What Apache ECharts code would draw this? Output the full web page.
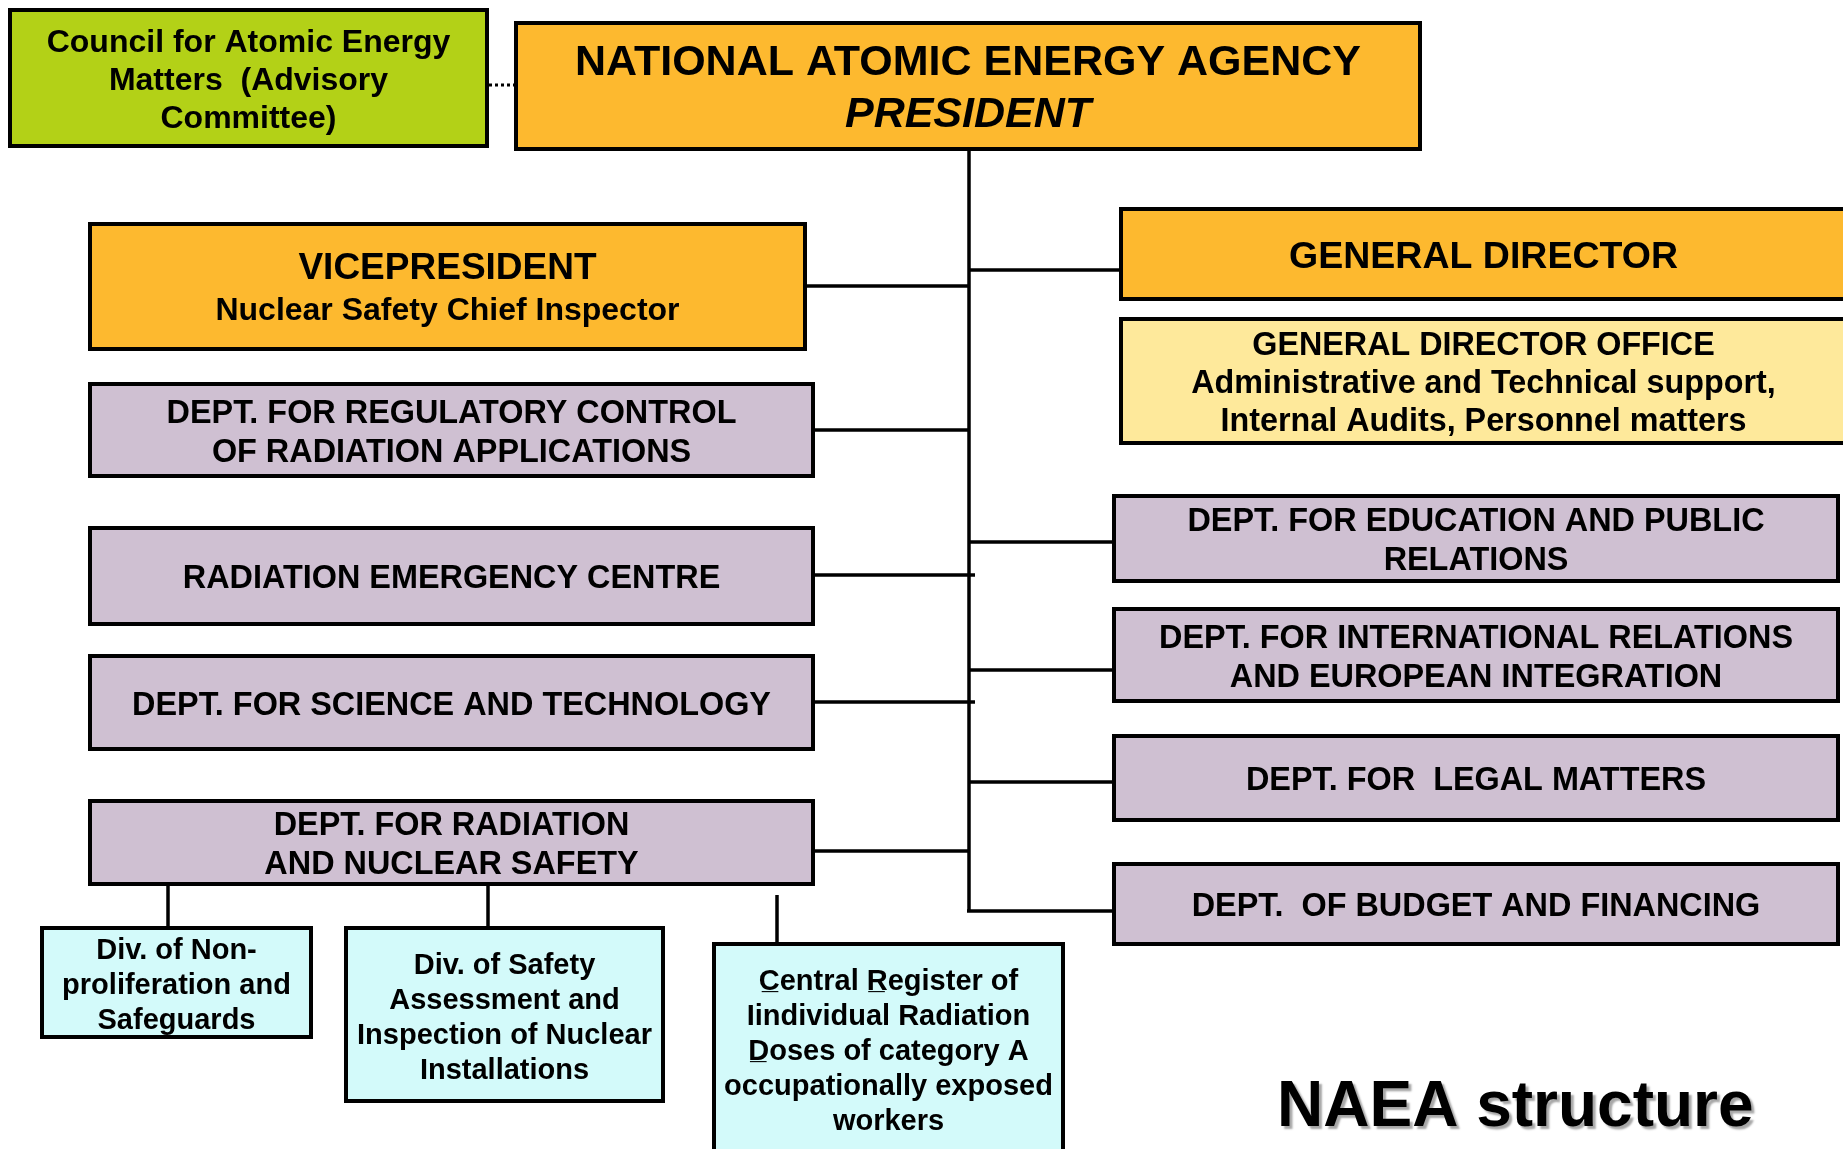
<!DOCTYPE html>
<html>
<head>
<meta charset="utf-8">
<title>NAEA structure</title>
<script src="https://cdn.jsdelivr.net/npm/echarts@6/dist/echarts.min.js"></script>
<style>
  html, body { margin: 0; padding: 0; background: #fff; }
  #chart { width: 1843px; height: 1149px; }
</style>
</head>
<body>
<div id="chart"></div>
<script>
  // org chart boxes: text, kind, extent [x0, y0, x1, y1] in chart units (0..1843 x 0..1149)
  const boxLabels = [
    'Council for Atomic Energy\nMatters  (Advisory\nCommittee)',
    '{big|NATIONAL ATOMIC ENERGY AGENCY}\n{it|PRESIDENT}',
    '{vp|VICEPRESIDENT}\n{sub|Nuclear Safety Chief Inspector}',
    '{gd|GENERAL DIRECTOR}',
    'GENERAL DIRECTOR OFFICE\nAdministrative and Technical support,\nInternal Audits, Personnel matters',
    'DEPT. FOR REGULATORY CONTROL\nOF RADIATION APPLICATIONS',
    'RADIATION EMERGENCY CENTRE',
    'DEPT. FOR SCIENCE AND TECHNOLOGY',
    'DEPT. FOR RADIATION\nAND NUCLEAR SAFETY',
    'DEPT. FOR EDUCATION AND PUBLIC\nRELATIONS',
    'DEPT. FOR INTERNATIONAL RELATIONS\nAND EUROPEAN INTEGRATION',
    'DEPT. FOR  LEGAL MATTERS',
    'DEPT.  OF BUDGET AND FINANCING',
    'Div. of Non-\nproliferation and\nSafeguards',
    'Div. of Safety\nAssessment and\nInspection of Nuclear\nInstallations',
    'C\u0332entral R\u0332egister of\nIindividual Radiation\nD\u0332oses of category A\noccupationally exposed\nworkers'
  ];
  const boxKinds = [
    'council', 'head', 'head', 'head', 'office',
    'dept', 'dept', 'dept', 'dept',
    'dept', 'dept', 'dept', 'dept',
    'div', 'div', 'div'
  ];
  const boxExtents = [
    [8, 8, 489, 148],
    [514, 21, 1422, 151],
    [88, 222, 807, 351],
    [1119, 207, 1848, 301],
    [1119, 317, 1848, 445],
    [88, 382, 815, 478],
    [88, 526, 815, 626],
    [88, 654, 815, 751],
    [88, 799, 815, 886],
    [1112, 494, 1840, 583],
    [1112, 607, 1840, 703],
    [1112, 734, 1840, 822],
    [1112, 862, 1840, 946],
    [40, 926, 313, 1039],
    [344, 926, 665, 1103],
    [712, 942, 1065, 1154]
  ];

  // connectors: [x0, y0, x1, y1] and whether dotted
  const linkSegments = [
    [489, 85, 514, 85],
    [969, 151, 969, 912],
    [807, 286, 969, 286],
    [969, 270, 1119, 270],
    [811, 430, 969, 430],
    [815, 575, 975, 575],
    [815, 702, 975, 702],
    [815, 851, 969, 851],
    [969, 542, 1112, 542],
    [969, 670, 1112, 670],
    [969, 782, 1112, 782],
    [967, 911, 1112, 911],
    [168, 886, 168, 926],
    [488, 886, 488, 926],
    [777, 895, 777, 948]
  ];
  const linkDotted = [true, false, false, false, false, false, false, false, false, false, false, false, false, false, false];

  const chartTitle = 'NAEA structure';

  const FONT = '"Liberation Sans", Arial, Helvetica, sans-serif';
  const fills = {
    council: '#b3d117',
    head: '#fdb92f',
    office: '#fee99b',
    dept: '#cfc0d2',
    div: '#d3fafa'
  };
  const textSizes = {
    council: [32, 38],
    head: [32, 38],
    office: [32.3, 38],
    dept: [32.4, 39],
    div: [29, 35]
  };
  const richStyles = {
    big: { fontSize: 43, fontWeight: 'bold', fontFamily: FONT, lineHeight: 52, fill: '#000' },
    it: { fontSize: 43, fontWeight: 'bold', fontStyle: 'italic', fontFamily: FONT, lineHeight: 52, fill: '#000' },
    vp: { fontSize: 37, fontWeight: 'bold', fontFamily: FONT, lineHeight: 42, fill: '#000' },
    sub: { fontSize: 32, fontWeight: 'bold', fontFamily: FONT, lineHeight: 42, fill: '#000' },
    gd: { fontSize: 37.5, fontWeight: 'bold', fontFamily: FONT, lineHeight: 44, fill: '#000' }
  };

  var myChart = echarts.init(document.getElementById('chart'), null, { renderer: 'canvas' });

  myChart.setOption({
    animation: false,
    backgroundColor: '#fff',
    title: {
      text: chartTitle,
      left: 1277,
      top: 1076,
      padding: 0,
      textStyle: {
        fontFamily: FONT,
        fontSize: 64,
        fontWeight: 'bold',
        color: '#000',
        textShadowColor: 'rgba(0,0,0,0.35)',
        textShadowBlur: 2,
        textShadowOffsetX: 3,
        textShadowOffsetY: 3
      }
    },
    grid: { left: 0, right: 0, top: 0, bottom: 0 },
    xAxis: { type: 'value', min: 0, max: 1843, show: false },
    yAxis: { type: 'value', min: 0, max: 1149, inverse: true, show: false },
    series: [
      {
        // connectors first so boxes sit on top
        type: 'custom',
        name: 'links',
        silent: true,
        data: linkSegments.map(function (s, i) { return s.concat(linkDotted[i] ? 1 : 0); }),
        renderItem: function (params, api) {
          var a = api.coord([api.value(0), api.value(1)]);
          var b = api.coord([api.value(2), api.value(3)]);
          var dotted = api.value(4) === 1;
          return {
            type: 'line',
            shape: { x1: a[0], y1: a[1], x2: b[0], y2: b[1] },
            style: {
              stroke: '#000',
              lineWidth: dotted ? 3 : 3.5,
              lineDash: dotted ? [3, 3] : null
            }
          };
        }
      },
      {
        type: 'custom',
        name: 'boxes',
        silent: true,
        data: boxExtents,
        renderItem: function (params, api) {
          var i = params.dataIndex;
          var kind = boxKinds[i];
          var a = api.coord([api.value(0), api.value(1)]);
          var b = api.coord([api.value(2), api.value(3)]);
          var sz = textSizes[kind];
          return {
            type: 'rect',
            shape: { x: a[0] + 2, y: a[1] + 2, width: b[0] - a[0] - 4, height: b[1] - a[1] - 4 },
            style: { fill: fills[kind], stroke: '#000', lineWidth: 4 },
            textContent: {
              style: {
                text: boxLabels[i],
                fill: '#000',
                fontFamily: FONT,
                fontWeight: 'bold',
                fontSize: sz[0],
                lineHeight: sz[1],
                align: 'center',
                verticalAlign: 'middle',
                rich: richStyles
              }
            },
            textConfig: { position: 'inside', offset: [0, 3.5] }
          };
        }
      }
    ]
  });
</script>
</body>
</html>
